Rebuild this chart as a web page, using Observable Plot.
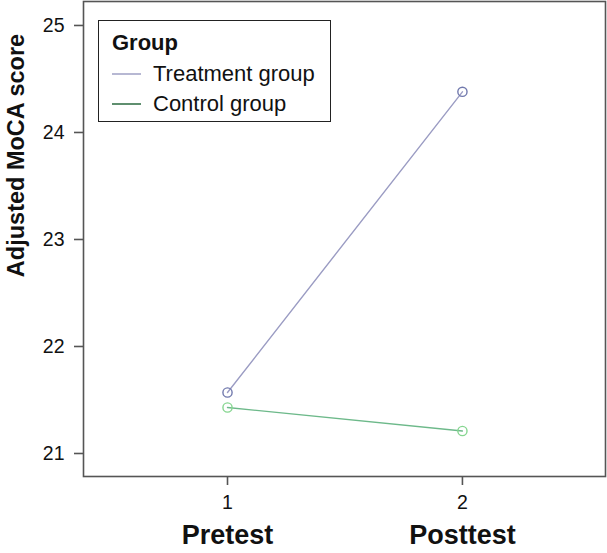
<!DOCTYPE html>
<html>
<head>
<meta charset="utf-8">
<script src="https://cdn.jsdelivr.net/npm/d3@7"></script>
<script src="https://cdn.jsdelivr.net/npm/@observablehq/plot@0.6"></script>
<style>
  html, body { margin: 0; padding: 0; background: #fff; }
  #wrap { position: relative; width: 607px; height: 553px; font-family: "Liberation Sans", Arial, sans-serif; }
  #legend { position: absolute; left: 98px; top: 20px; width: 231px; height: 100px; border: 1.5px solid #222; background: #fff; box-sizing: content-box; }
  #legend .title { position: absolute; left: 13px; top: 9px; font-weight: bold; font-size: 22px; color: #111; }
  #legend .row { position: absolute; left: 13px; font-size: 22px; color: #111; display: flex; align-items: center; }
  #legend .sw { width: 29px; height: 0; border-top: 2.5px solid; margin-right: 12px; }
</style>
</head>
<body>
<div id="wrap"></div>
<script>
const timepoints = [1, 2];
const timeLabels = ["Pretest", "Posttest"];
const groups = ["Treatment group", "Control group"];
const treatmentScores = [21.57, 24.38];
const controlScores = [21.43, 21.21];
const yTicks = [21, 22, 23, 24, 25];

const lineColors = {"Treatment group": "#9b9cc3", "Control group": "#6db98a"};
const pointColors = {"Treatment group": "#7179ad", "Control group": "#86d690"};
const legendColors = {"Treatment group": "#b7b8d3", "Control group": "#5f8f6f"};

const data = [];
groups.forEach((g, gi) => {
  const vals = gi === 0 ? treatmentScores : controlScores;
  timepoints.forEach((t, i) => data.push({group: g, time: t, score: vals[i]}));
});
const labelData = timepoints.map((t, i) => ({time: t, label: timeLabels[i]}));

const font = "'Liberation Sans', Arial, sans-serif";

const plot = Plot.plot({
  width: 607,
  height: 553,
  marginLeft: 83,
  marginRight: 2,
  marginTop: 1,
  marginBottom: 77,
  style: {fontFamily: font, background: "#fff", overflow: "visible"},
  x: {domain: [0.387, 2.609]},
  y: {domain: [20.785, 25.224]},
  marks: [
    Plot.frame({stroke: "#555", strokeWidth: 1.6}),
    Plot.axisY({ticks: yTicks, tickSize: 9, tickPadding: 10, fontSize: 19.5, stroke: "#555", strokeWidth: 1.6, fill: "#111", tickFormat: d => String(d), label: null}),
    Plot.axisX({ticks: timepoints, tickSize: 9, tickPadding: 10, fontSize: 19.5, stroke: "#555", strokeWidth: 1.6, fill: "#111", tickFormat: d => String(d), label: null}),
    Plot.line(data, {x: "time", y: "score", z: "group", stroke: d => lineColors[d.group], strokeWidth: 1.4}),
    Plot.dot(data, {x: "time", y: "score", r: 4.6, stroke: d => pointColors[d.group], strokeWidth: 1.4, fill: "none"}),
    Plot.text(labelData, {x: "time", text: "label", frameAnchor: "bottom", dy: 59, fontSize: 27, fontWeight: "bold", fill: "#111", lineAnchor: "middle"}),
    Plot.text(["Adjusted MoCA score"], {frameAnchor: "top-left", dx: -67, dy: 154, rotate: -90, textAnchor: "middle", fontSize: 23.5, fontWeight: "bold", fill: "#111", lineAnchor: "middle"})
  ]
});

const wrap = document.getElementById("wrap");
wrap.appendChild(plot);

const legend = document.createElement("div");
legend.id = "legend";
const title = document.createElement("div");
title.className = "title";
title.textContent = "Group";
legend.appendChild(title);
groups.forEach((g, i) => {
  const row = document.createElement("div");
  row.className = "row";
  row.style.top = (40 + i * 30) + "px";
  const sw = document.createElement("span");
  sw.className = "sw";
  sw.style.borderTopColor = legendColors[g];
  const lab = document.createElement("span");
  lab.textContent = g;
  row.appendChild(sw);
  row.appendChild(lab);
  legend.appendChild(row);
});
wrap.appendChild(legend);
</script>
</body>
</html>
